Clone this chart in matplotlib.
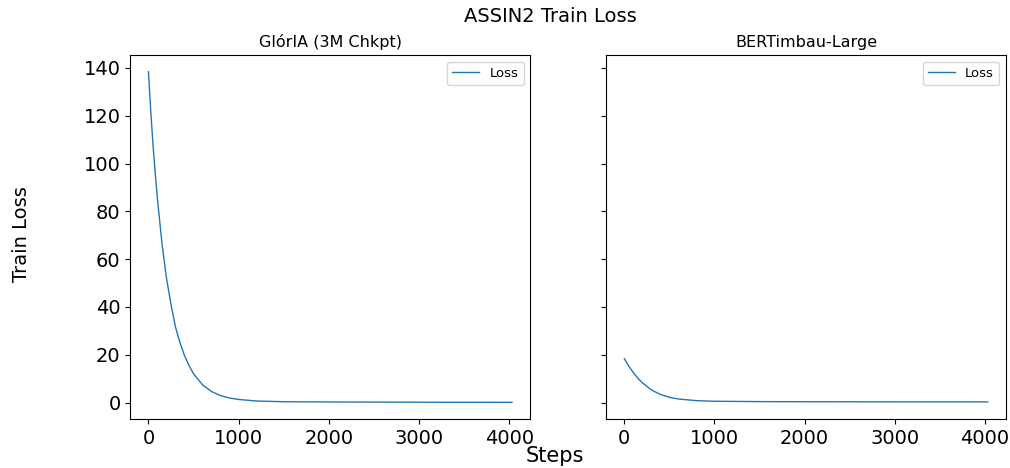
import numpy as np
import matplotlib.pyplot as plt

# loss values (step, loss)
gloria_steps = [0, 25, 50, 75, 100, 150, 200, 250, 300, 350, 400, 450, 500, 600,
                700, 800, 900, 1000, 1200, 1500, 2000, 2500, 3000, 3500, 4030]
gloria_loss = [138.4, 122.0, 108.0, 96.0, 85.0, 66.5, 52.0, 41.0, 31.5, 25.0, 19.6,
               15.5, 12.0, 7.4, 4.6, 2.9, 1.9, 1.3, 0.65, 0.35, 0.25, 0.2, 0.15,
               0.12, 0.1]

bert_steps = [0, 50, 100, 150, 200, 300, 400, 500, 600, 800, 1000, 1500, 2000,
              3000, 4030]
bert_loss = [18.4, 15.2, 12.6, 10.2, 8.3, 5.3, 3.4, 2.2, 1.5, 0.8, 0.55, 0.4,
             0.35, 0.3, 0.28]

titles = ["GlórIA (3M Chkpt)", "BERTimbau-Large"]

fig, axes = plt.subplots(1, 2, figsize=(10.1, 4.68), dpi=100, sharey=True)

for ax, x, y, t in zip(axes, [gloria_steps, bert_steps], [gloria_loss, bert_loss], titles):
    ax.plot(x, y, lw=1, label="Loss")
    ax.set_title(t, fontsize=11.5)
    ax.tick_params(labelsize=14)
    ax.legend(loc="upper right", fontsize=9.5)

fig.suptitle("ASSIN2 Train Loss", fontsize=14, x=0.545, y=0.985)
fig.supxlabel("Steps", fontsize=15, x=0.549, y=0.005)
fig.supylabel("Train Loss", fontsize=14, x=0.012)

fig.subplots_adjust(left=0.129, right=0.996, top=0.882, bottom=0.105, wspace=0.19)
fig.savefig("out.png")
